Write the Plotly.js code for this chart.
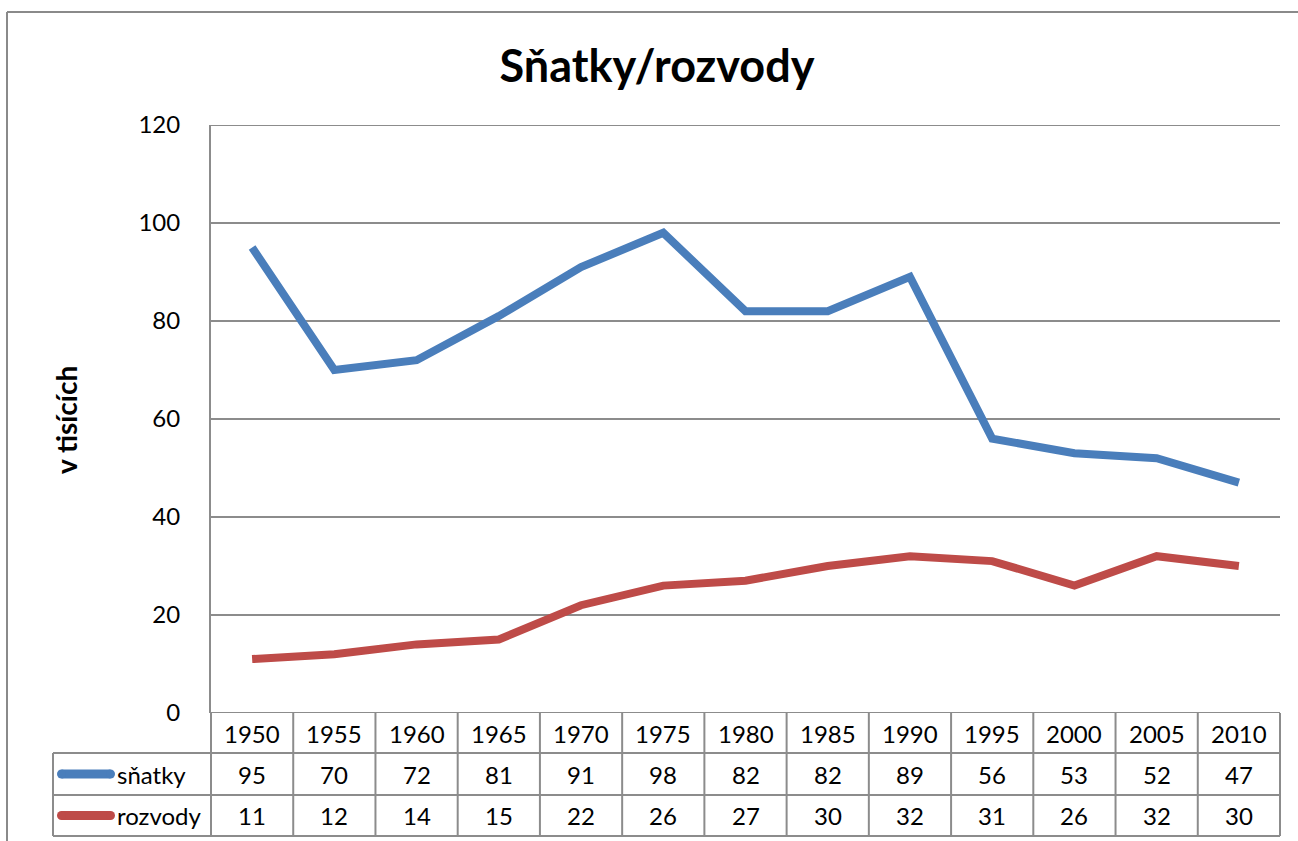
<!DOCTYPE html>
<html>
<head>
<meta charset="utf-8">
<script src="https://cdn.plot.ly/plotly-3.0.1.min.js"></script>
<style>html,body{margin:0;padding:0;background:#fff;}#chart{width:1298px;height:841px;}</style>
</head>
<body>
<div id="chart"></div>
<script>
const years = ['1950','1955','1960','1965','1970','1975','1980','1985','1990','1995','2000','2005','2010'];
const snatky = [95,70,72,81,91,98,82,82,89,56,53,52,47];
const rozvody = [11,12,14,15,22,26,27,30,32,31,26,32,30];
const seriesNames = ['sňatky','rozvody'];
const seriesColors = ['#4a7ebb','#be4b48'];

const W = 1298, H = 841;
const L = 211, R = 1280, T = 125, B = 713;
const n = years.length;
function xp(px){ return (px - L) / (R - L); }
function yp(py){ return (B - py) / (B - T); }

const FONT = 'Lato, "Open Sans", sans-serif';
const GRID = '#8c8c8c';
const TF = 24;

const traces = [snatky, rozvody].map((vals, i) => ({
  type: 'scatter', mode: 'lines', x: years, y: vals, name: seriesNames[i],
  line: {color: seriesColors[i], width: 8},
  hoverinfo: 'x+y', showlegend: false
}));

const rowTop = [713, 753, 795];
const rowBot = 836;
const legendLeft = 53;
const shapes = [];
function hline(x0, x1, py){ shapes.push({type:'line', xref:'paper', yref:'paper', x0:x0, x1:x1, y0:yp(py), y1:yp(py), line:{color:GRID, width:2}}); }
function vline(x, py0, py1){ shapes.push({type:'line', xref:'paper', yref:'paper', x0:x, x1:x, y0:yp(py0), y1:yp(py1), line:{color:GRID, width:2}}); }
// outer frame
shapes.push({type:'line', xref:'paper', yref:'paper', x0:xp(7), x1:xp(W+5), y0:yp(12), y1:yp(12), line:{color:'#8a8a8a', width:2}});
shapes.push({type:'line', xref:'paper', yref:'paper', x0:xp(7), x1:xp(7), y0:yp(12), y1:yp(H+5), line:{color:'#8a8a8a', width:2}});
// top/bottom gridlines (0 and 120)
shapes.push({type:'line', xref:'paper', yref:'y', x0:0, x1:1, y0:0, y1:0, line:{color:GRID, width:2}});
shapes.push({type:'line', xref:'paper', yref:'y', x0:0, x1:1, y0:120, y1:120, line:{color:GRID, width:2}});
// table horizontal lines
hline(xp(legendLeft), 1, 753);
hline(xp(legendLeft), 1, 795);
hline(xp(legendLeft), 1, rowBot);
// table vertical lines
for (let k = 0; k <= n; k++) vline(k / n, 713, rowBot);
vline(xp(legendLeft), 753, rowBot);

const annotations = [];
const keyX0 = 61.5, keyX1 = 110.5, keyR = 4.5;
[snatky, rozvody].forEach((vals, i) => {
  const pyc = (rowTop[i+1] + (i === 0 ? rowTop[2] : rowBot)) / 2;
  const yc = yp(pyc);
  const col = seriesColors[i];
  shapes.push({type:'line', xref:'paper', yref:'paper', x0:xp(keyX0), x1:xp(keyX1), y0:yc, y1:yc, line:{color:col, width:9}});
  [keyX0, keyX1].forEach(cx => {
    shapes.push({type:'circle', xref:'paper', yref:'paper', x0:xp(cx - keyR), x1:xp(cx + keyR), y0:yp(pyc + keyR), y1:yp(pyc - keyR), fillcolor:col, line:{width:0}});
  });
  annotations.push({xref:'paper', yref:'paper', x:xp(115), y:yc, text:seriesNames[i], showarrow:false, xanchor:'left', yanchor:'middle', font:{family:FONT, size:TF, color:'#000'}});
  vals.forEach((v, j) => {
    annotations.push({xref:'paper', yref:'paper', x:(j + 0.5) / n, y:yc, text:String(v), showarrow:false, xanchor:'center', yanchor:'middle', font:{family:FONT, size:TF, color:'#000'}});
  });
});
years.forEach((yr, j) => {
  annotations.push({xref:'paper', yref:'paper', x:(j + 0.5) / n, y:yp(733), text:yr, showarrow:false, xanchor:'center', yanchor:'middle', font:{family:FONT, size:TF, color:'#000'}});
});
annotations.push({xref:'paper', yref:'paper', x:xp(66), y:yp(420), text:'<b>v tisících</b>', textangle:-90, showarrow:false, xanchor:'center', yanchor:'middle', font:{family:FONT, size:28, color:'#000'}});

const layout = {
  width: W, height: H,
  margin: {l: L, r: W - R, t: T, b: H - B},
  paper_bgcolor: '#fff', plot_bgcolor: '#fff',
  title: {text: '<b>Sňatky/rozvody</b>', x: 657 / W, xanchor: 'center', y: 1 - 66 / H, yanchor: 'middle', font: {family: FONT, size: 45, color: '#000'}},
  xaxis: {type: 'category', range: [-0.5, n - 0.5], showticklabels: false, showgrid: false, zeroline: false, showline: false, ticks: '', fixedrange: true},
  yaxis: {range: [0, 120], dtick: 20, tick0: 0, showgrid: true, gridcolor: GRID, gridwidth: 2, zeroline: false,
          showline: true, linecolor: GRID, linewidth: 2, ticks: 'outside', ticklen: 24, tickcolor: 'rgba(0,0,0,0)',
          tickfont: {family: FONT, size: TF, color: '#000'}},
  shapes: shapes,
  annotations: annotations,
  showlegend: false
};

Plotly.newPlot('chart', traces, layout, {displayModeBar: false, staticPlot: true});
</script>
</body>
</html>
